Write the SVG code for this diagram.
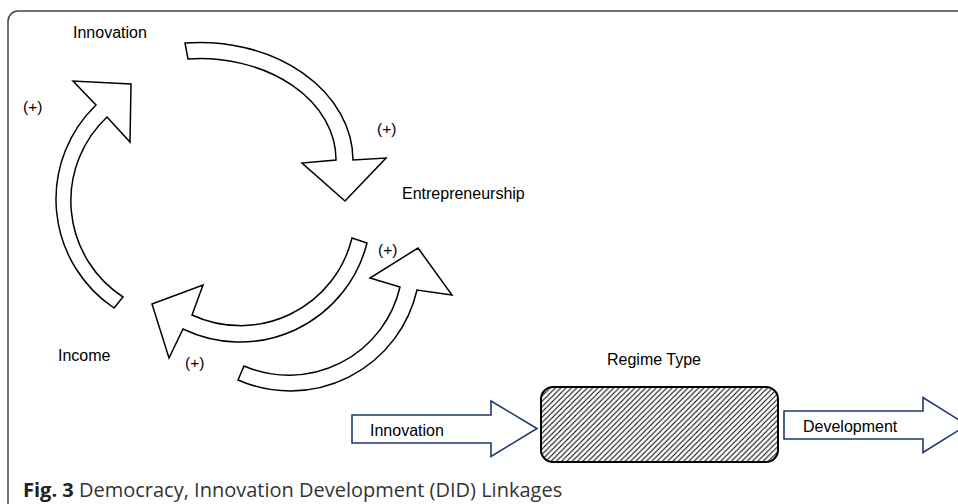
<svg xmlns="http://www.w3.org/2000/svg" width="958" height="504" viewBox="0 0 958 504">
<style>
.lbl{font-family:"Liberation Sans",Arial,sans-serif;font-size:16px;fill:#000}
.sgn{font-family:"Liberation Sans",Arial,sans-serif;font-size:15.5px;fill:#000}
.cur{fill:#fff;stroke:#000;stroke-width:1.5;stroke-linejoin:miter}
.blk{fill:#fff;stroke:#1f3a6e;stroke-width:1.6}
.cap{font-family:"Open Sans","Noto Sans",sans-serif;font-size:20px;fill:#333}
</style>
<defs>
<pattern id="hatch" width="5.3" height="5.3" patternUnits="userSpaceOnUse">
<path d="M-1,6.3 L6.3,-1 M-1,1 L1,-1 M4.3,6.3 L6.3,4.3" stroke="#000" stroke-width="1.05"/>
</pattern>
</defs>
<rect width="958" height="504" fill="#fff"/>
<path d="M8,504 V21 A10,10 0 0 1 18,11 H958" fill="none" stroke="#444" stroke-width="1.5"/>
<g id="connectors">
<path id="c-innov-entre" class="cur" d="M185,43 A153,118 0 0 1 353,160 L386,158 L345,201 L302,163 L336,160 A136,101 0 0 0 188,59 Z"/>
<path id="c-income-innov" class="cur" d="M114,308 A131,131 0 0 1 96,105 L73,81 L131,84 L130,142 L107,117 A115,115 0 0 0 123,297 Z"/>
<path id="c-entre-income" class="cur" d="M352,238 A115,115 0 0 1 192,315 L203,285 L152,304 L169,358 L183,329 A131,131 0 0 0 367,243 Z"/>
<path id="c-income-entre" class="cur" d="M244,366 A114,114 0 0 0 400,287 L370,278 L418,248 L452,295 L417,290 A130,130 0 0 1 238,380 Z"/>
<path id="c-innovation-block" class="blk" d="M352,415 H491 V401 L537,428.5 L491,456.5 V443 H352 Z"/>
<path id="c-development-block" class="blk" d="M784,411 H923 V397.5 L967,425 L923,452.5 V439 H784 Z"/>
</g>
<g id="node-innovation"><text class="lbl" x="73" y="38">Innovation</text></g>
<g id="node-entrepreneurship"><text class="lbl" x="402" y="199">Entrepreneurship</text></g>
<g id="node-income"><text class="lbl" x="58" y="361">Income</text></g>
<g id="signs">
<text class="sgn" x="23" y="112">(+)</text>
<text class="sgn" x="377" y="134">(+)</text>
<text class="sgn" x="378" y="255">(+)</text>
<text class="sgn" x="185" y="368">(+)</text>
</g>
<g id="node-regime">
<text class="lbl" x="654" y="365" text-anchor="middle">Regime Type</text>
<rect x="541" y="387" width="237" height="75" rx="12" ry="12" fill="url(#hatch)" stroke="#000" stroke-width="2"/>
</g>
<g id="node-innovation-in"><text class="lbl" x="370" y="436">Innovation</text></g>
<g id="node-development"><text class="lbl" x="803" y="432">Development</text></g>
<g id="caption">
<text class="cap" x="23" y="497"><tspan font-weight="bold" fill="#222">Fig. 3</tspan> Democracy, Innovation Development (DID) Linkages</text>
</g>
</svg>
